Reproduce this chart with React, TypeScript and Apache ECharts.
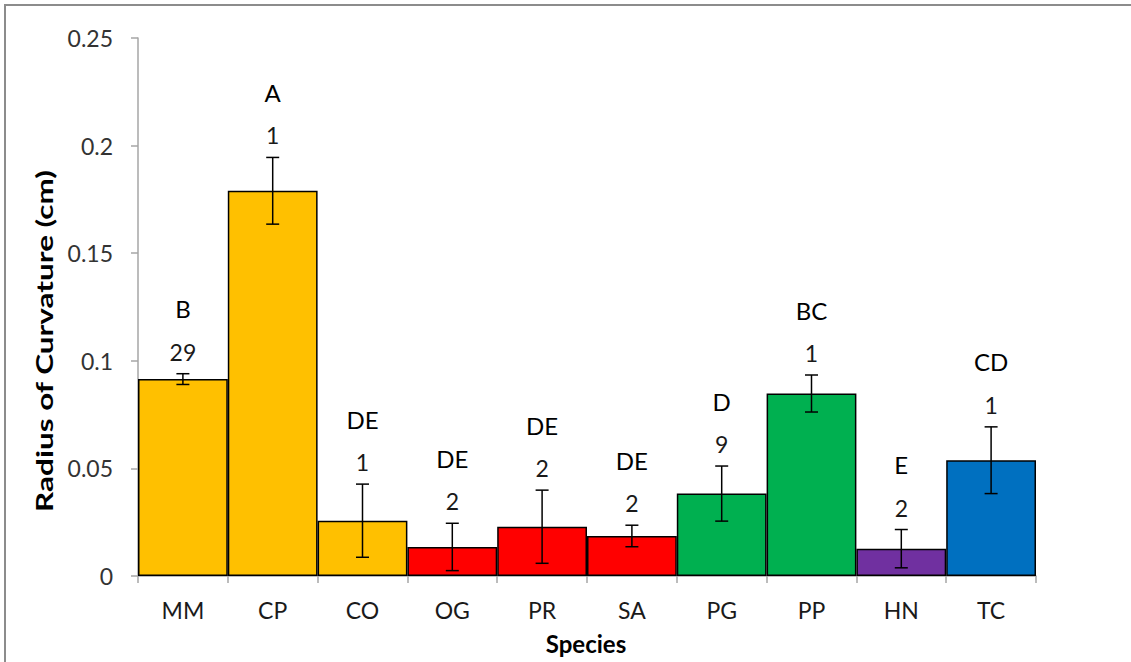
import React, { useEffect, useRef } from "react";
import * as echarts from "echarts";

const categories = ["MM", "CP", "CO", "OG", "PR", "SA", "PG", "PP", "HN", "TC"];
const means = [0.0915, 0.179, 0.0257, 0.0135, 0.0229, 0.0186, 0.0383, 0.0848, 0.0127, 0.0538];
const errors = [0.0025, 0.0155, 0.017, 0.011, 0.017, 0.005, 0.0128, 0.0086, 0.0089, 0.0155];
const counts = ["29", "1", "1", "2", "2", "2", "9", "1", "2", "1"];
const groups = ["B", "A", "DE", "DE", "DE", "DE", "D", "BC", "E", "CD"];
const families = ["yellow", "yellow", "yellow", "red", "red", "red", "green", "green", "purple", "blue"];
const yTicks = [0, 0.05, 0.1, 0.15, 0.2, 0.25];

const palette: Record<string, string> = {
  yellow: "#FFC000",
  red: "#FF0000",
  green: "#00B050",
  purple: "#7030A0",
  blue: "#0070C0",
};

const FONT = "Lato";

export default function App() {
  const ref = useRef<HTMLDivElement>(null);
  useEffect(() => {
    if (!ref.current) return;
    const chart = echarts.init(ref.current, null, { renderer: "svg" });
    const option: any = {
      animation: false,
      backgroundColor: "#ffffff",
      textStyle: { fontFamily: FONT },
      grid: { left: 138, right: 95, top: 38, bottom: 86, containLabel: false },
      xAxis: {
        type: "category",
        data: categories,
        axisLine: { show: true, lineStyle: { color: "#a6a6a6", width: 1.5 } },
        axisTick: { show: true, length: 7, interval: 0, lineStyle: { color: "#a6a6a6", width: 1.5 } },
        axisLabel: { interval: 0, margin: 22, fontSize: 23, color: "#1a1a1a", fontFamily: FONT },
        splitLine: { show: false },
      },
      yAxis: {
        type: "value",
        min: yTicks[0],
        max: yTicks[yTicks.length - 1],
        interval: 0.05,
        axisLine: { show: true, lineStyle: { color: "#a6a6a6", width: 1.5 } },
        axisTick: { show: true, length: 7, lineStyle: { color: "#a6a6a6", width: 1.5 } },
        axisLabel: {
          margin: 25,
          fontSize: 23,
          color: "#333333",
          fontFamily: FONT,
          formatter: (v: number) => String(+v.toFixed(2)),
        },
        splitLine: { show: false },
      },
      graphic: [
        {
          type: "rect",
          shape: { x: 5, y: 5, width: 1300, height: 1000 },
          style: { fill: "none", stroke: "#8c8c8c", lineWidth: 2 },
          silent: true,
        },
        {
          type: "text",
          x: 44,
          y: 341,
          rotation: Math.PI / 2,
          scaleX: 1.37,
          style: {
            text: "Radius of Curvature (cm)",
            fontFamily: FONT,
            fontSize: 23,
            fontWeight: "bold",
            fill: "#000",
            align: "center",
            verticalAlign: "middle",
          },
        },
        {
          type: "text",
          x: 586,
          y: 643,
          style: {
            text: "Species",
            fontFamily: FONT,
            fontSize: 24,
            fontWeight: "bold",
            fill: "#000",
            align: "center",
            verticalAlign: "middle",
          },
        },
      ],
      series: [
        {
          type: "bar",
          barWidth: "100%",
          barCategoryGap: 0,
          data: means.map((m, i) => ({
            value: m,
            itemStyle: { color: palette[families[i]], borderColor: "#000", borderWidth: 1.5 },
          })),
          z: 2,
        },
        {
          type: "custom",
          z: 5,
          encode: { x: 0, y: 1 },
          data: means.map((m, i) => [i, m, errors[i]]),
          renderItem: (params: any, api: any) => {
            const i = params.dataIndex;
            const x = api.value(0);
            const m = api.value(1);
            const e = api.value(2);
            const top = api.coord([x, m + e]);
            const bot = api.coord([x, m - e]);
            const cap = 6.5;
            const ls = { stroke: "#000", lineWidth: 1.5 };
            return {
              type: "group",
              children: [
                { type: "line", shape: { x1: top[0], y1: top[1], x2: bot[0], y2: bot[1] }, style: ls },
                { type: "line", shape: { x1: top[0] - cap, y1: top[1], x2: top[0] + cap, y2: top[1] }, style: ls },
                { type: "line", shape: { x1: bot[0] - cap, y1: bot[1], x2: bot[0] + cap, y2: bot[1] }, style: ls },
                {
                  type: "text",
                  x: top[0],
                  y: top[1] - 22,
                  style: {
                    text: counts[i],
                    fontFamily: FONT,
                    fontSize: 23,
                    fill: "#1a1a1a",
                    align: "center",
                    verticalAlign: "middle",
                  },
                },
                {
                  type: "text",
                  x: top[0],
                  y: top[1] - 65,
                  style: {
                    text: groups[i],
                    fontFamily: FONT,
                    fontSize: 24,
                    fill: "#000",
                    align: "center",
                    verticalAlign: "middle",
                  },
                },
              ],
            };
          },
        },
      ],
    };
    chart.setOption(option);
    return () => chart.dispose();
  }, []);
  return (
    <div
      ref={ref}
      style={{ position: "absolute", left: 0, top: 0, width: 1131, height: 662 }}
    />
  );
}
